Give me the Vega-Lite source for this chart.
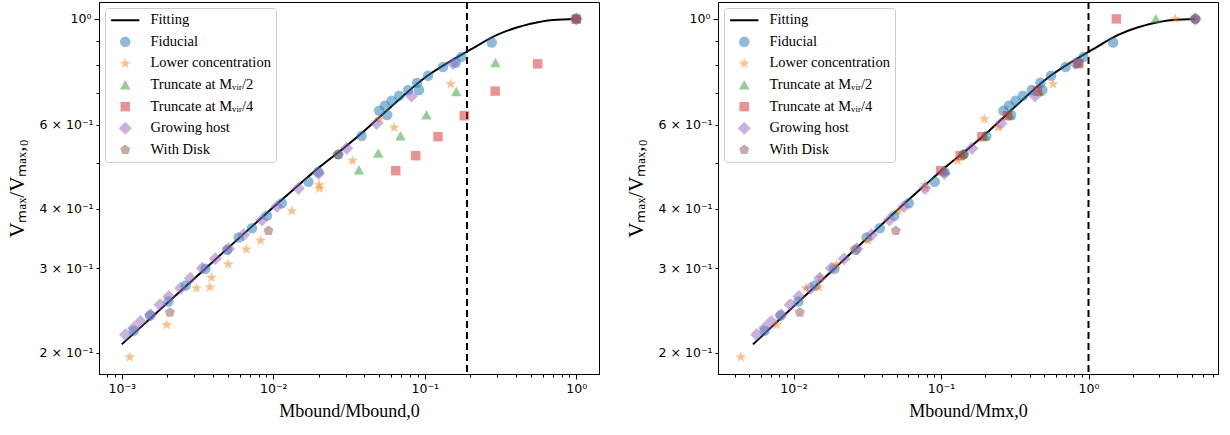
{
  "$schema": "https://vega.github.io/schema/vega-lite/v6.json",
  "background": "white",
  "padding": {"left": 5, "top": 0, "right": 0, "bottom": 0},
  "bounds": "flush",
  "spacing": 119,
  "config": {
    "view": {"stroke": "black", "strokeWidth": 1},
    "axis": {
      "grid": false, "domainColor": "black", "domainWidth": 1,
      "tickColor": "black", "tickWidth": 1,
      "labelColor": "black", "labelFont": "DejaVu Sans", "labelFontSize": 12.5,
      "titleColor": "black", "titleFont": "Liberation Serif", "titleFontSize": 18, "titleFontWeight": "normal",
      "labelOverlap": false, "labelFlush": false
    },
    "axisX": {"labelPadding": 3, "titlePadding": 8},
    "axisY": {"labelPadding": 3, "titlePadding": 12, "titleFontSize": 21},
    "legend": {
      "orient": "top-left", "offset": 6, "title": null,
      "padding": 5, "symbolOffset": 8, "symbolSize": 110, "symbolStrokeWidth": 0,
      "labelFont": "Liberation Serif", "labelFontSize": 14.5, "labelColor": "black",
      "labelOffset": 18, "rowPadding": 6.6, "labelLimit": 400,
      "fillColor": "rgba(255,255,255,0.85)", "strokeColor": "#cccccc", "cornerRadius": 3
    }
  },
  "datasets": {
    "fit": [
      {"mb": 0.001, "mmx": 0.0053, "v": 0.208},
      {"mb": 0.002, "mmx": 0.0106, "v": 0.254},
      {"mb": 0.004, "mmx": 0.0212, "v": 0.310},
      {"mb": 0.007, "mmx": 0.0371, "v": 0.364},
      {"mb": 0.01, "mmx": 0.053, "v": 0.403},
      {"mb": 0.015, "mmx": 0.0795, "v": 0.451},
      {"mb": 0.02, "mmx": 0.106, "v": 0.488},
      {"mb": 0.03, "mmx": 0.159, "v": 0.540},
      {"mb": 0.04, "mmx": 0.212, "v": 0.583},
      {"mb": 0.065, "mmx": 0.3445, "v": 0.670},
      {"mb": 0.1, "mmx": 0.53, "v": 0.753},
      {"mb": 0.15, "mmx": 0.795, "v": 0.818},
      {"mb": 0.2, "mmx": 1.06, "v": 0.862},
      {"mb": 0.3, "mmx": 1.59, "v": 0.926},
      {"mb": 0.4, "mmx": 2.12, "v": 0.958},
      {"mb": 0.5, "mmx": 2.65, "v": 0.977},
      {"mb": 0.7, "mmx": 3.71, "v": 0.995},
      {"mb": 1.0, "mmx": 5.3, "v": 1.0}
    ],
    "ref": [{"mb": 0.19, "mmx": 1}],
    "pts": [
      {"s": "Fiducial", "mb": 0.0012, "mmx": 0.00636, "v": 0.2222},
      {"s": "Fiducial", "mb": 0.00154, "mmx": 0.00816, "v": 0.2391},
      {"s": "Fiducial", "mb": 0.00203, "mmx": 0.01076, "v": 0.2559},
      {"s": "Fiducial", "mb": 0.00264, "mmx": 0.014, "v": 0.2763},
      {"s": "Fiducial", "mb": 0.00357, "mmx": 0.0189, "v": 0.2995},
      {"s": "Fiducial", "mb": 0.00496, "mmx": 0.0263, "v": 0.3282},
      {"s": "Fiducial", "mb": 0.00591, "mmx": 0.0313, "v": 0.3482},
      {"s": "Fiducial", "mb": 0.00724, "mmx": 0.0384, "v": 0.3642},
      {"s": "Fiducial", "mb": 0.00909, "mmx": 0.0482, "v": 0.3871},
      {"s": "Fiducial", "mb": 0.0114, "mmx": 0.0604, "v": 0.4108},
      {"s": "Fiducial", "mb": 0.01707, "mmx": 0.0905, "v": 0.456},
      {"s": "Fiducial", "mb": 0.0199, "mmx": 0.1055, "v": 0.478},
      {"s": "Fiducial", "mb": 0.0269, "mmx": 0.1426, "v": 0.5202},
      {"s": "Fiducial", "mb": 0.0383, "mmx": 0.203, "v": 0.5682},
      {"s": "Fiducial", "mb": 0.05, "mmx": 0.265, "v": 0.6419},
      {"s": "Fiducial", "mb": 0.0546, "mmx": 0.289, "v": 0.6577},
      {"s": "Fiducial", "mb": 0.0565, "mmx": 0.299, "v": 0.6288},
      {"s": "Fiducial", "mb": 0.0604, "mmx": 0.32, "v": 0.6737},
      {"s": "Fiducial", "mb": 0.0678, "mmx": 0.359, "v": 0.6902},
      {"s": "Fiducial", "mb": 0.0777, "mmx": 0.412, "v": 0.7094},
      {"s": "Fiducial", "mb": 0.089, "mmx": 0.472, "v": 0.7348},
      {"s": "Fiducial", "mb": 0.0917, "mmx": 0.486, "v": 0.7094},
      {"s": "Fiducial", "mb": 0.1051, "mmx": 0.557, "v": 0.76},
      {"s": "Fiducial", "mb": 0.1319, "mmx": 0.699, "v": 0.7925},
      {"s": "Fiducial", "mb": 0.16, "mmx": 0.848, "v": 0.8091},
      {"s": "Fiducial", "mb": 0.1743, "mmx": 0.924, "v": 0.8325},
      {"s": "Fiducial", "mb": 0.2771, "mmx": 1.469, "v": 0.8921},
      {"s": "Fiducial", "mb": 1, "mmx": 5.3, "v": 1},
      {"s": "Lower concentration", "mb": 0.00113, "mmx": 0.00438, "v": 0.1956},
      {"s": "Lower concentration", "mb": 0.00198, "mmx": 0.00768, "v": 0.2287},
      {"s": "Lower concentration", "mb": 0.00311, "mmx": 0.01207, "v": 0.2728},
      {"s": "Lower concentration", "mb": 0.00381, "mmx": 0.01478, "v": 0.2741},
      {"s": "Lower concentration", "mb": 0.00391, "mmx": 0.01517, "v": 0.2872},
      {"s": "Lower concentration", "mb": 0.00504, "mmx": 0.01956, "v": 0.3062},
      {"s": "Lower concentration", "mb": 0.00665, "mmx": 0.0258, "v": 0.3292},
      {"s": "Lower concentration", "mb": 0.00825, "mmx": 0.032, "v": 0.3432},
      {"s": "Lower concentration", "mb": 0.01327, "mmx": 0.0515, "v": 0.396},
      {"s": "Lower concentration", "mb": 0.0201, "mmx": 0.078, "v": 0.4488},
      {"s": "Lower concentration", "mb": 0.0202, "mmx": 0.0784, "v": 0.4416},
      {"s": "Lower concentration", "mb": 0.0334, "mmx": 0.1296, "v": 0.5046},
      {"s": "Lower concentration", "mb": 0.0506, "mmx": 0.1963, "v": 0.6168},
      {"s": "Lower concentration", "mb": 0.0628, "mmx": 0.2437, "v": 0.5923},
      {"s": "Lower concentration", "mb": 0.1483, "mmx": 0.575, "v": 0.7302},
      {"s": "Lower concentration", "mb": 1, "mmx": 3.88, "v": 1},
      {"s": "Truncate at Mᵥᵢᵣ/2", "mb": 0.0368, "mmx": 0.1052, "v": 0.4825},
      {"s": "Truncate at Mᵥᵢᵣ/2", "mb": 0.0493, "mmx": 0.141, "v": 0.5227},
      {"s": "Truncate at Mᵥᵢᵣ/2", "mb": 0.0692, "mmx": 0.198, "v": 0.5682},
      {"s": "Truncate at Mᵥᵢᵣ/2", "mb": 0.1026, "mmx": 0.293, "v": 0.6288},
      {"s": "Truncate at Mᵥᵢᵣ/2", "mb": 0.1616, "mmx": 0.462, "v": 0.7036},
      {"s": "Truncate at Mᵥᵢᵣ/2", "mb": 0.2932, "mmx": 0.839, "v": 0.8091},
      {"s": "Truncate at Mᵥᵢᵣ/2", "mb": 1, "mmx": 2.86, "v": 1},
      {"s": "Truncate at Mᵥᵢᵣ/4", "mb": 0.0644, "mmx": 0.0995, "v": 0.4808},
      {"s": "Truncate at Mᵥᵢᵣ/4", "mb": 0.0872, "mmx": 0.1347, "v": 0.5169},
      {"s": "Truncate at Mᵥᵢᵣ/4", "mb": 0.1223, "mmx": 0.189, "v": 0.5664},
      {"s": "Truncate at Mᵥᵢᵣ/4", "mb": 0.1825, "mmx": 0.282, "v": 0.6267},
      {"s": "Truncate at Mᵥᵢᵣ/4", "mb": 0.2918, "mmx": 0.451, "v": 0.7059},
      {"s": "Truncate at Mᵥᵢᵣ/4", "mb": 0.5564, "mmx": 0.86, "v": 0.8051},
      {"s": "Truncate at Mᵥᵢᵣ/4", "mb": 1, "mmx": 1.545, "v": 1},
      {"s": "Growing host", "mb": 0.00106, "mmx": 0.00562, "v": 0.218},
      {"s": "Growing host", "mb": 0.0012, "mmx": 0.00636, "v": 0.225},
      {"s": "Growing host", "mb": 0.00133, "mmx": 0.00705, "v": 0.2323},
      {"s": "Growing host", "mb": 0.00155, "mmx": 0.00822, "v": 0.2399},
      {"s": "Growing host", "mb": 0.00179, "mmx": 0.00949, "v": 0.2518},
      {"s": "Growing host", "mb": 0.00205, "mmx": 0.01087, "v": 0.2621},
      {"s": "Growing host", "mb": 0.00245, "mmx": 0.01299, "v": 0.2728},
      {"s": "Growing host", "mb": 0.00284, "mmx": 0.01505, "v": 0.2862},
      {"s": "Growing host", "mb": 0.0034, "mmx": 0.018, "v": 0.3004},
      {"s": "Growing host", "mb": 0.00415, "mmx": 0.022, "v": 0.3144},
      {"s": "Growing host", "mb": 0.00508, "mmx": 0.0269, "v": 0.3298},
      {"s": "Growing host", "mb": 0.00638, "mmx": 0.0338, "v": 0.3528},
      {"s": "Growing host", "mb": 0.00843, "mmx": 0.0447, "v": 0.3792},
      {"s": "Growing host", "mb": 0.01058, "mmx": 0.0561, "v": 0.4044},
      {"s": "Growing host", "mb": 0.01467, "mmx": 0.0778, "v": 0.4416},
      {"s": "Growing host", "mb": 0.01987, "mmx": 0.1053, "v": 0.4746},
      {"s": "Growing host", "mb": 0.03055, "mmx": 0.1619, "v": 0.5355},
      {"s": "Growing host", "mb": 0.0481, "mmx": 0.255, "v": 0.6039},
      {"s": "Growing host", "mb": 0.0818, "mmx": 0.434, "v": 0.6892},
      {"s": "Growing host", "mb": 0.1535, "mmx": 0.814, "v": 0.8062},
      {"s": "Growing host", "mb": 1, "mmx": 5.3, "v": 1},
      {"s": "With Disk", "mb": 0.00208, "mmx": 0.01102, "v": 0.2427},
      {"s": "With Disk", "mb": 0.00931, "mmx": 0.0493, "v": 0.3597},
      {"s": "With Disk", "mb": 0.0268, "mmx": 0.142, "v": 0.5194},
      {"s": "With Disk", "mb": 1, "mmx": 5.3, "v": 1}
    ]
  },
  "hconcat": [
    {
      "width": 500, "height": 372,
      "layer": [
        {
          "data": {"name": "fit"},
          "mark": {"type": "line", "color": "black", "strokeWidth": 2, "interpolate": "monotone"},
          "encoding": {
            "x": {"field": "mb", "type": "quantitative", "scale": {"type": "log", "domain": [0.000708, 1.413], "nice": false}},
            "y": {"field": "v", "type": "quantitative", "scale": {"type": "log", "domain": [0.1803, 1.085], "nice": false}}
          }
        },
        {
          "data": {"name": "ref"},
          "mark": {"type": "rule", "color": "black", "strokeWidth": 2, "strokeDash": [7, 4]},
          "encoding": {
            "x": {"field": "mb", "type": "quantitative", "scale": {"type": "log", "domain": [0.000708, 1.413], "nice": false}}
          }
        },
        {
          "data": {"name": "pts"},
          "mark": {"type": "point", "filled": true, "size": 110, "strokeWidth": 0, "opacity": 1},
          "encoding": {
            "x": {
              "field": "mb", "type": "quantitative",
              "scale": {"type": "log", "domain": [0.000708, 1.413], "nice": false},
              "axis": {
                "title": "Mbound/Mbound,0",
                "values": [0.0008, 0.0009, 0.001, 0.002, 0.003, 0.004, 0.005, 0.006, 0.007, 0.008, 0.009, 0.01, 0.02, 0.03, 0.04, 0.05, 0.06, 0.07, 0.08, 0.09, 0.1, 0.2, 0.3, 0.4, 0.5, 0.6, 0.7, 0.8, 0.9, 1],
                "labelExpr": "datum.value == 1 ? '10⁰' : datum.value == 0.1 ? '10⁻¹' : datum.value == 0.01 ? '10⁻²' : datum.value == 0.001 ? '10⁻³' : ''",
                "tickSize": {"condition": {"test": "datum.value == 1 || datum.value == 0.1 || datum.value == 0.01 || datum.value == 0.001", "value": 5}, "value": 3}
              }
            },
            "y": {
              "field": "v", "type": "quantitative",
              "scale": {"type": "log", "domain": [0.1803, 1.085], "nice": false},
              "axis": {
                "title": "Vₘₐₓ/Vₘₐₓ,₀",
                "values": [0.2, 0.3, 0.4, 0.5, 0.6, 0.7, 0.8, 0.9, 1],
                "labelExpr": "datum.value == 1 ? '10⁰' : datum.value == 0.2 ? '2 × 10⁻¹' : datum.value == 0.3 ? '3 × 10⁻¹' : datum.value == 0.4 ? '4 × 10⁻¹' : datum.value == 0.6 ? '6 × 10⁻¹' : ''",
                "tickSize": {"condition": {"test": "datum.value == 1", "value": 5}, "value": 3}
              }
            },
            "color": {
              "field": "s", "type": "nominal",
              "scale": {"domain": ["Fitting", "Fiducial", "Lower concentration", "Truncate at Mᵥᵢᵣ/2", "Truncate at Mᵥᵢᵣ/4", "Growing host", "With Disk"],
                        "range": ["#000000", "rgba(31,119,180,0.5)", "rgba(255,127,14,0.5)", "rgba(44,160,44,0.5)", "rgba(214,39,40,0.5)", "rgba(148,103,189,0.5)", "rgba(140,86,75,0.5)"]}
            },
            "shape": {
              "field": "s", "type": "nominal",
              "scale": {"domain": ["Fitting", "Fiducial", "Lower concentration", "Truncate at Mᵥᵢᵣ/2", "Truncate at Mᵥᵢᵣ/4", "Growing host", "With Disk"],
                        "range": ["M-2.7,-0.19H2.7V0.19H-2.7Z", "circle", "M0,-1.1L0.247,-0.34L1.046,-0.34L0.4,0.13L0.647,0.89L0,0.42L-0.647,0.89L-0.4,0.13L-1.046,-0.34L-0.247,-0.34Z", "M0,-0.95L1,0.85L-1,0.85Z", "M-0.9,-0.9H0.9V0.9H-0.9Z", "M0,-1.25L1.25,0L0,1.25L-1.25,0Z", "M0,-1L0.951,-0.309L0.588,0.809L-0.588,0.809L-0.951,-0.309Z"]}
            }
          }
        }
      ]
    },
    {
      "width": 500, "height": 372,
      "layer": [
        {
          "data": {"name": "fit"},
          "mark": {"type": "line", "color": "black", "strokeWidth": 2, "interpolate": "monotone"},
          "encoding": {
            "x": {"field": "mmx", "type": "quantitative", "scale": {"type": "log", "domain": [0.00307, 7.556], "nice": false}},
            "y": {"field": "v", "type": "quantitative", "scale": {"type": "log", "domain": [0.1803, 1.085], "nice": false}}
          }
        },
        {
          "data": {"name": "ref"},
          "mark": {"type": "rule", "color": "black", "strokeWidth": 2, "strokeDash": [7, 4]},
          "encoding": {
            "x": {"field": "mmx", "type": "quantitative", "scale": {"type": "log", "domain": [0.00307, 7.556], "nice": false}}
          }
        },
        {
          "data": {"name": "pts"},
          "mark": {"type": "point", "filled": true, "size": 110, "strokeWidth": 0, "opacity": 1},
          "encoding": {
            "x": {
              "field": "mmx", "type": "quantitative",
              "scale": {"type": "log", "domain": [0.00307, 7.556], "nice": false},
              "axis": {
                "title": "Mbound/Mmx,0",
                "values": [0.004, 0.005, 0.006, 0.007, 0.008, 0.009, 0.01, 0.02, 0.03, 0.04, 0.05, 0.06, 0.07, 0.08, 0.09, 0.1, 0.2, 0.3, 0.4, 0.5, 0.6, 0.7, 0.8, 0.9, 1, 2, 3, 4, 5, 6, 7],
                "labelExpr": "datum.value == 1 ? '10⁰' : datum.value == 0.1 ? '10⁻¹' : datum.value == 0.01 ? '10⁻²' : ''",
                "tickSize": {"condition": {"test": "datum.value == 1 || datum.value == 0.1 || datum.value == 0.01", "value": 5}, "value": 3}
              }
            },
            "y": {
              "field": "v", "type": "quantitative",
              "scale": {"type": "log", "domain": [0.1803, 1.085], "nice": false},
              "axis": {
                "title": "Vₘₐₓ/Vₘₐₓ,₀",
                "values": [0.2, 0.3, 0.4, 0.5, 0.6, 0.7, 0.8, 0.9, 1],
                "labelExpr": "datum.value == 1 ? '10⁰' : datum.value == 0.2 ? '2 × 10⁻¹' : datum.value == 0.3 ? '3 × 10⁻¹' : datum.value == 0.4 ? '4 × 10⁻¹' : datum.value == 0.6 ? '6 × 10⁻¹' : ''",
                "tickSize": {"condition": {"test": "datum.value == 1", "value": 5}, "value": 3}
              }
            },
            "color": {
              "field": "s", "type": "nominal",
              "scale": {"domain": ["Fitting", "Fiducial", "Lower concentration", "Truncate at Mᵥᵢᵣ/2", "Truncate at Mᵥᵢᵣ/4", "Growing host", "With Disk"],
                        "range": ["#000000", "rgba(31,119,180,0.5)", "rgba(255,127,14,0.5)", "rgba(44,160,44,0.5)", "rgba(214,39,40,0.5)", "rgba(148,103,189,0.5)", "rgba(140,86,75,0.5)"]}
            },
            "shape": {
              "field": "s", "type": "nominal",
              "scale": {"domain": ["Fitting", "Fiducial", "Lower concentration", "Truncate at Mᵥᵢᵣ/2", "Truncate at Mᵥᵢᵣ/4", "Growing host", "With Disk"],
                        "range": ["M-2.7,-0.19H2.7V0.19H-2.7Z", "circle", "M0,-1.1L0.247,-0.34L1.046,-0.34L0.4,0.13L0.647,0.89L0,0.42L-0.647,0.89L-0.4,0.13L-1.046,-0.34L-0.247,-0.34Z", "M0,-0.95L1,0.85L-1,0.85Z", "M-0.9,-0.9H0.9V0.9H-0.9Z", "M0,-1.25L1.25,0L0,1.25L-1.25,0Z", "M0,-1L0.951,-0.309L0.588,0.809L-0.588,0.809L-0.951,-0.309Z"]}
            }
          }
        }
      ]
    }
  ],
  "resolve": {
    "scale": {"color": "independent", "shape": "independent"},
    "legend": {"color": "independent", "shape": "independent"}
  }
}
